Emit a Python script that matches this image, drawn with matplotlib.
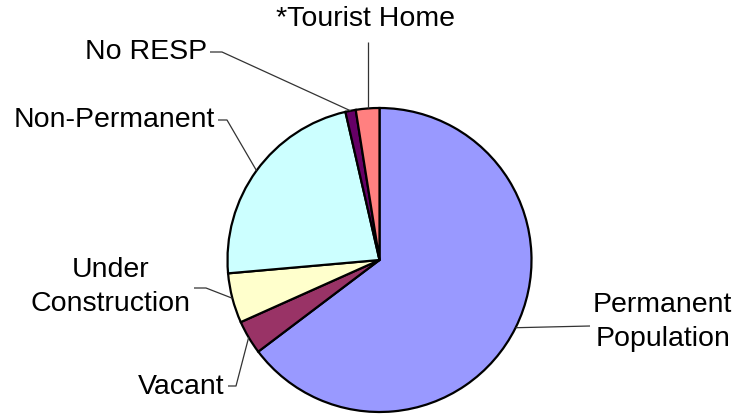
import numpy as np
import matplotlib
matplotlib.use("Agg")
import matplotlib.pyplot as plt

# Housing units by occupancy status (percent of total)
categories = ["Permanent\nPopulation", "Vacant", "Under\nConstruction",
              "Non-Permanent", "No RESP", "*Tourist Home"]
values = [64.7, 3.6, 5.3, 22.8, 1.1, 2.5]
colors = ["#9999FF", "#993366", "#FFFFCC", "#CCFFFF", "#660066", "#FF8080"]

plt.rcParams["font.family"] = ["Liberation Sans", "DejaVu Sans"]

W, H = 734, 416
fig = plt.figure(figsize=(W / 100, H / 100), dpi=100)
ax = fig.add_axes([0, 0, 1, 1])

cx, cy, r = 379.5, H - 260, 152
wedges, _ = ax.pie(values, colors=colors, startangle=90, counterclock=False,
                   center=(cx, cy), radius=r, frame=True,
                   wedgeprops=dict(edgecolor="black", linewidth=1.6))
ax.set_xlim(0, W)
ax.set_ylim(0, H)
ax.set_aspect("equal")
ax.axis("off")

FS = 20.5
LINE = dict(color="#333333", lw=0.9, solid_capstyle="butt")

# label layouts: (leader elbow points, text position, alignment) in top-down pixels
layout = {
    0: ([(590, 326)], (593, 322), "left"),
    1: ([(236, 386), (228, 386)], (224, 387), "right"),
    2: ([(206, 288), (194, 288)], (111, 287), "center"),
    3: ([(227, 120), (218, 120)], (215, 120), "right"),
    4: ([(222, 52), (210, 52)], (207, 52), "right"),
}

for i, w in enumerate(wedges):
    mid = np.deg2rad((w.theta1 + w.theta2) / 2)
    ex, ey = cx + r * np.cos(mid), cy + r * np.sin(mid)
    if i not in layout:
        ax.plot([ex, ex], [ey, H - 42], **LINE)
        ax.text(ex - 2, H - 19, categories[i], ha="center", va="center",
                fontsize=FS, color="black")
        continue
    pts, tpos, ha = layout[i]
    xs = [ex] + [p[0] for p in pts]
    ys = [ey] + [H - p[1] for p in pts]
    ax.plot(xs, ys, **LINE)
    ax.text(tpos[0], H - tpos[1], categories[i], ha=ha, va="center",
            multialignment="center", fontsize=FS, color="black",
            linespacing=1.38)

fig.savefig("out.png", dpi=100, facecolor="white")
